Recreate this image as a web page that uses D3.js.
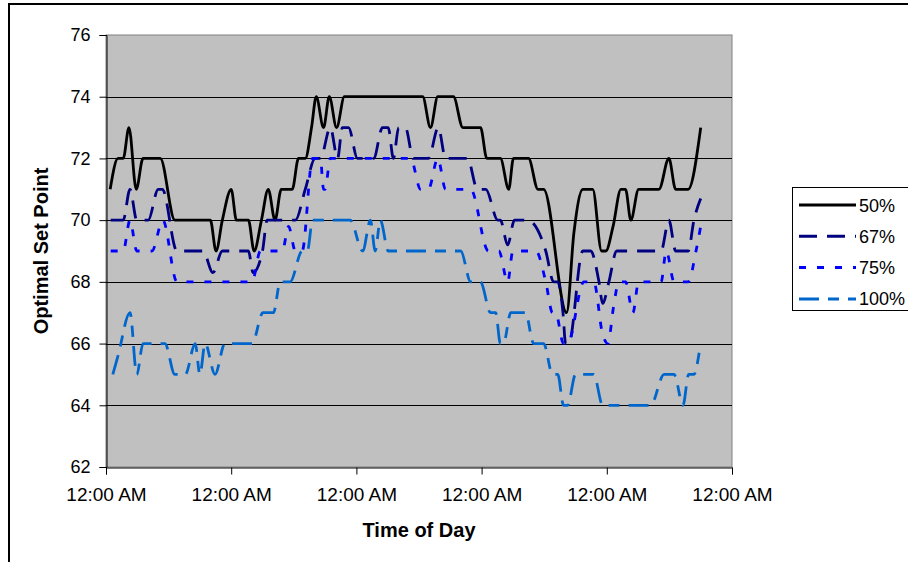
<!DOCTYPE html>
<html>
<head>
<meta charset="utf-8">
<title>Optimal Set Point</title>
<script src="https://d3js.org/d3.v7.min.js"></script>
<style>
  body { margin: 0; background: #fff; }
  svg text { font-family: "Liberation Sans", Arial, sans-serif; fill: #000; }
</style>
</head>
<body>
<div id="chart"></div>
<script>
// hours since start (ticks are one day apart)
var t50 = [0.8, 2.3, 3.3, 4.4, 5.8, 7.1, 10.4, 13.2, 20.0, 21.1, 22.3, 24.0, 25.0, 27.3, 28.4, 29.8, 31.1, 32.4, 33.6, 35.7,
           36.9, 38.2, 39.4, 40.3, 41.7, 42.8, 44.2, 45.7, 60.7, 62.2, 63.6, 66.6, 68.4, 71.8, 73.0, 75.6, 77.2, 78.1, 81.0, 82.8,
           83.9, 88.3, 89.7, 91.4, 93.3, 95.0, 95.8, 97.2, 98.7, 99.6, 100.6, 102.1, 106.0, 107.9, 109.2, 111.6, 114.0];
var v50 = [71, 72, 72, 73, 71, 72, 72, 70, 70, 69, 70, 71, 70, 70, 69, 70, 71, 70, 71, 71,
           72, 72, 73, 74, 73, 74, 73, 74, 74, 73, 74, 74, 73, 73, 72, 72, 71, 72, 72, 71,
           71, 67, 69.6, 71, 71, 69, 69, 69.8, 71, 71, 70, 71, 71, 72, 71, 71, 73];

var t67 = [0.9, 3.3, 4.6, 5.9, 8.1, 10.0, 10.8, 13.6, 18.6, 20.5, 22.3, 27.3, 28.2, 30.0, 30.9, 36.3, 38.2, 40.1, 41.1, 43.0,
           44.4, 45.3, 46.5, 48.2, 51.3, 53.0, 54.1, 55.1, 56.1, 57.4, 58.9, 61.8, 63.7, 65.1, 69.3, 71.2, 72.8, 75.1, 75.6, 77.0,
           78.3, 80.8, 84.3, 85.8, 86.6, 87.6, 88.1, 88.7, 91.4, 92.9, 94.5, 95.2, 96.4, 97.9, 106.4, 107.9, 109.2, 111.6, 112.7, 114.0];
var v67 = [70, 70, 71, 70, 70, 71, 71, 69, 69, 68.3, 69, 69, 68.3, 69, 70, 70, 71, 72, 72, 73,
           72, 73, 73, 72, 72, 73, 73, 72, 73, 73, 72, 72, 73, 72, 72, 71, 71, 70, 70, 69.2,
           70, 70, 69, 68, 68, 67, 66, 66, 69, 69, 68, 67.3, 68, 69, 69, 70, 69, 69, 70, 70.7];

var t75 = [0.9, 3.3, 4.6, 5.9, 8.8, 10.9, 13.6, 28.0, 29.6, 33.8, 35.0, 36.3, 37.6, 39.6, 41.1, 41.7, 42.0, 43.0, 58.4, 60.3,
           61.8, 63.6, 65.1, 69.9, 73.3, 75.3, 77.0, 78.0, 82.4, 84.3, 85.6, 86.2, 87.7, 88.5, 91.6, 93.5, 95.2, 96.2, 97.3, 98.3,
           99.6, 101.0, 102.1, 106.4, 107.4, 108.9, 111.6, 113.1, 114.0];
var v75 = [69, 69, 70, 69, 69, 70, 68, 68, 69, 69, 69.8, 69, 69, 72, 72, 71, 71, 72, 72, 71,
           71, 72, 71, 71, 69, 69, 68, 69, 69, 68, 67, 67, 66, 66, 68, 68, 66.3, 66, 67.2, 68,
           68, 67, 68, 68, 69, 68, 68, 69, 69.8];

var t100 = [1.3, 2.3, 4.6, 5.9, 7.1, 11.3, 13.2, 15.2, 17.1, 18.0, 19.0, 20.9, 22.8, 28.0, 30.1, 32.1, 33.4, 35.3, 37.6, 38.6,
            39.6, 46.8, 49.2, 50.7, 51.6, 52.6, 54.1, 68.0, 69.9, 71.8, 73.7, 74.7, 75.6, 76.2, 77.6, 80.4, 82.0, 83.9, 85.6, 86.6,
            87.7, 88.5, 90.0, 93.5, 95.2, 104.4, 107.0, 108.9, 110.6, 111.7, 112.7, 113.7];
var v100 = [65, 65.6, 67, 65, 66, 66, 65, 65, 66, 65, 66, 65, 66, 66, 67, 67, 68, 68, 69, 69,
            70, 70, 69, 70, 69, 70, 69, 69, 68, 68, 67, 67, 66, 66, 67, 67, 66, 66, 65, 65,
            64, 64, 65, 65, 64, 64, 65, 65, 64, 65, 65, 65.7];

var seriesNames = ["50%", "67%", "75%", "100%"];
var seriesColors = ["#000000", "#000080", "#0000FF", "#0066CC"];
var seriesDash = ["none", "18,10", "7,11", "20,9,11,9"];
var yTicks = [62, 64, 66, 68, 70, 72, 74, 76];
var xTicks = [0, 24, 48, 72, 96, 120];
var xTickLabel = "12:00 AM";

var series = [t50, t67, t75, t100].map(function(ts, i) {
  var vs = [v50, v67, v75, v100][i];
  return { name: seriesNames[i], color: seriesColors[i], dash: seriesDash[i],
           values: ts.map(function(t, j) { return { t: t, v: vs[j] }; }) };
});

var width = 908, height = 562;
var plot = { left: 106, top: 35, right: 732, bottom: 467 };

var svg = d3.select("#chart").append("svg")
    .attr("width", width)
    .attr("height", height);

// outer chart frame (runs off the picture on the right and bottom)
svg.append("rect")
    .attr("x", 9).attr("y", 4)
    .attr("width", 960).attr("height", 600)
    .attr("fill", "#fff")
    .attr("stroke", "#000")
    .attr("stroke-width", 2);

var x = d3.scaleLinear().domain([0, 120]).range([plot.left, plot.right]);
var y = d3.scaleLinear().domain([62, 76]).range([plot.bottom, plot.top]);

// plot area
svg.append("rect")
    .attr("x", plot.left).attr("y", plot.top)
    .attr("width", plot.right - plot.left)
    .attr("height", plot.bottom - plot.top)
    .attr("fill", "#C0C0C0")
    .attr("stroke", "#808080")
    .attr("stroke-width", 1);

// gridlines
svg.append("g")
  .selectAll("line")
  .data(yTicks.slice(1, -1))
  .enter().append("line")
    .attr("x1", plot.left).attr("x2", plot.right)
    .attr("y1", function(d) { return Math.round(y(d)) + 0.5; })
    .attr("y2", function(d) { return Math.round(y(d)) + 0.5; })
    .attr("stroke", "#000")
    .attr("stroke-width", 1);

// axes
var yAxis = svg.append("g")
    .attr("transform", "translate(" + (plot.left + 0.5) + ",0)")
    .call(d3.axisLeft(y).tickValues(yTicks).tickSize(7).tickPadding(9));
var xAxis = svg.append("g")
    .attr("transform", "translate(0," + (plot.bottom + 0.5) + ")")
    .call(d3.axisBottom(x).tickValues(xTicks).tickSize(7).tickPadding(13)
      .tickFormat(function() { return xTickLabel; }));

[yAxis, xAxis].forEach(function(a) {
  a.select(".domain").attr("stroke", "#000");
  a.selectAll(".tick line").attr("stroke", "#000");
  a.selectAll("text")
    .style("font-family", "'Liberation Sans', Arial, sans-serif")
    .style("font-size", "18px")
    .attr("fill", "#000");
});
xAxis.selectAll("text").style("font-size", "19px");

// series lines
var line = d3.line()
    .x(function(d) { return x(d.t); })
    .y(function(d) { return y(d.v); })
    .curve(d3.curveMonotoneX);

svg.append("g")
  .selectAll("path")
  .data(series)
  .enter().append("path")
    .attr("d", function(d) { return line(d.values); })
    .attr("fill", "none")
    .attr("stroke", function(d) { return d.color; })
    .attr("stroke-width", 2.8)
    .attr("stroke-dasharray", function(d) { return d.dash; })
    .attr("stroke-linejoin", "round");

// axis titles
svg.append("text")
    .attr("transform", "translate(48,251) rotate(-90)")
    .attr("text-anchor", "middle")
    .style("font-size", "20px")
    .style("font-weight", "bold")
    .text("Optimal Set Point");

svg.append("text")
    .attr("x", 419).attr("y", 537)
    .attr("text-anchor", "middle")
    .style("font-size", "20px")
    .style("font-weight", "bold")
    .text("Time of Day");

// legend
var legend = svg.append("g");
legend.append("rect")
    .attr("x", 792.5).attr("y", 187.5)
    .attr("width", 130).attr("height", 123)
    .attr("fill", "#fff")
    .attr("stroke", "#000")
    .attr("stroke-width", 1);

var items = legend.selectAll("g.item")
  .data(series)
  .enter().append("g")
    .attr("class", "item")
    .attr("transform", function(d, i) { return "translate(0," + (205 + i * 31.3) + ")"; });

items.append("line")
    .attr("x1", 799).attr("x2", 856)
    .attr("y1", 0).attr("y2", 0)
    .attr("stroke", function(d) { return d.color; })
    .attr("stroke-width", 3)
    .attr("stroke-dasharray", function(d) { return d.dash; });

items.append("text")
    .attr("x", 859).attr("y", 6.5)
    .style("font-size", "18px")
    .text(function(d) { return d.name; });
</script>
</body>
</html>
